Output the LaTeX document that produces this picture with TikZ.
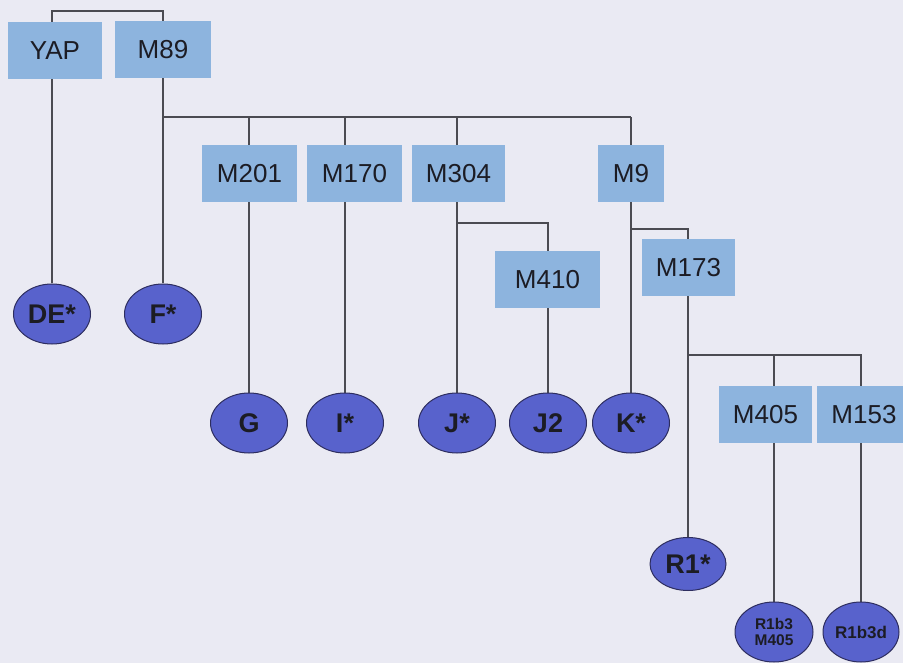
\documentclass[tikz,border=0pt]{standalone}
\usepackage{fontspec}
\setmainfont{Liberation Sans}
\usetikzlibrary{shapes.geometric}
\pgfdeclarelayer{paperlayer}
\pgfdeclarelayer{bg}
\pgfsetlayers{paperlayer,bg,main}
\definecolor{paper}{RGB}{234,234,243}
\definecolor{boxblue}{RGB}{141,180,222}
\definecolor{ovalblue}{RGB}{88,98,204}
\definecolor{ovalline}{RGB}{45,45,95}
\definecolor{wirecol}{RGB}{75,75,82}
\definecolor{ink}{RGB}{28,28,36}

\begin{document}
\begin{tikzpicture}[x=1pt,y=-1pt,
  marker/.style={fill=boxblue, minimum height=57pt, inner sep=0pt, text=ink,
    font=\fontsize{26}{28}\selectfont},
  clade/.style={ellipse, fill=ovalblue, draw=ovalline, line width=1pt,
    minimum width=77pt, minimum height=60pt, inner sep=0pt, text=ink,
    font=\bfseries\fontsize{27}{29}\selectfont},
  smallclade/.style={clade, font=\bfseries\fontsize{15.5}{15.5}\selectfont, align=center},
  wire/.style={draw=wirecol, line width=1.3pt}]

\begin{pgfonlayer}{paperlayer}
\fill[paper] (0,0) rectangle (903,663);
\end{pgfonlayer}
\useasboundingbox (0,0) rectangle (903,663);

% branch rows
\coordinate (r0) at (0,11);
\coordinate (r1) at (0,117);
\coordinate (r2) at (0,223);
\coordinate (r3) at (0,229);
\coordinate (r4) at (0,355);

% markers
\node[marker, minimum width=94pt] (yap) at (55,50.5) {YAP};
\node[marker, minimum width=96pt] (m89) at (163,49.5) {M89};
\node[marker, minimum width=95pt] (m201) at (249.5,173.5) {M201};
\node[marker, minimum width=95pt] (m170) at (354.5,173.5) {M170};
\node[marker, minimum width=93pt] (m304) at (458.5,173.5) {M304};
\node[marker, minimum width=66pt] (m9) at (631,173.5) {M9};
\node[marker, minimum width=105pt] (m410) at (547.5,279.5) {M410};
\node[marker, minimum width=93pt] (m173) at (688.5,267.5) {M173};
\node[marker, minimum width=93pt] (m405) at (765.5,414.5) {M405};
\node[marker, minimum width=94pt] (m153) at (864,414.5) {M153};

% haplogroups
\node[clade] (destar) at (52,314) {DE*};
\node[clade] (fstar) at (163,314) {F*};
\node[clade] (g) at (249,423) {G};
\node[clade] (istar) at (345,423) {I*};
\node[clade] (jstar) at (457,423) {J*};
\node[clade] (jtwo) at (548,423) {J2};
\node[clade] (kstar) at (631,423) {K*};
\node[clade, minimum width=76pt, minimum height=53pt] (rone) at (688,564) {R1*};
\node[smallclade, minimum width=78pt] (rb) at (774,632) {R1b3\\M405};
\node[smallclade, minimum width=76pt, font=\bfseries\fontsize{17}{17}\selectfont] (rbd) at (861,632) {R1b3d};

% tree lines, kept behind the boxes
\begin{pgfonlayer}{bg}
\draw[wire] (destar.north) -- (destar.north |- r0) -- (fstar.north |- r0) -- (fstar.north);
\draw[wire] (fstar.north |- r1) -- (kstar.north |- r1);
\draw[wire] (g.north) -- (g.north |- r1);
\draw[wire] (istar.north) -- (istar.north |- r1);
\draw[wire] (jstar.north) -- (jstar.north |- r1);
\draw[wire] (kstar.north) -- (kstar.north |- r1);
\draw[wire] (jstar.north |- r2) -| (jtwo.north);
\draw[wire] (kstar.north |- r3) -| (rone.north);
\draw[wire] (rone.north |- r4) -| (rbd.north);
\draw[wire] (rb.north) -- (rb.north |- r4);
\end{pgfonlayer}
\end{tikzpicture}
\end{document}
